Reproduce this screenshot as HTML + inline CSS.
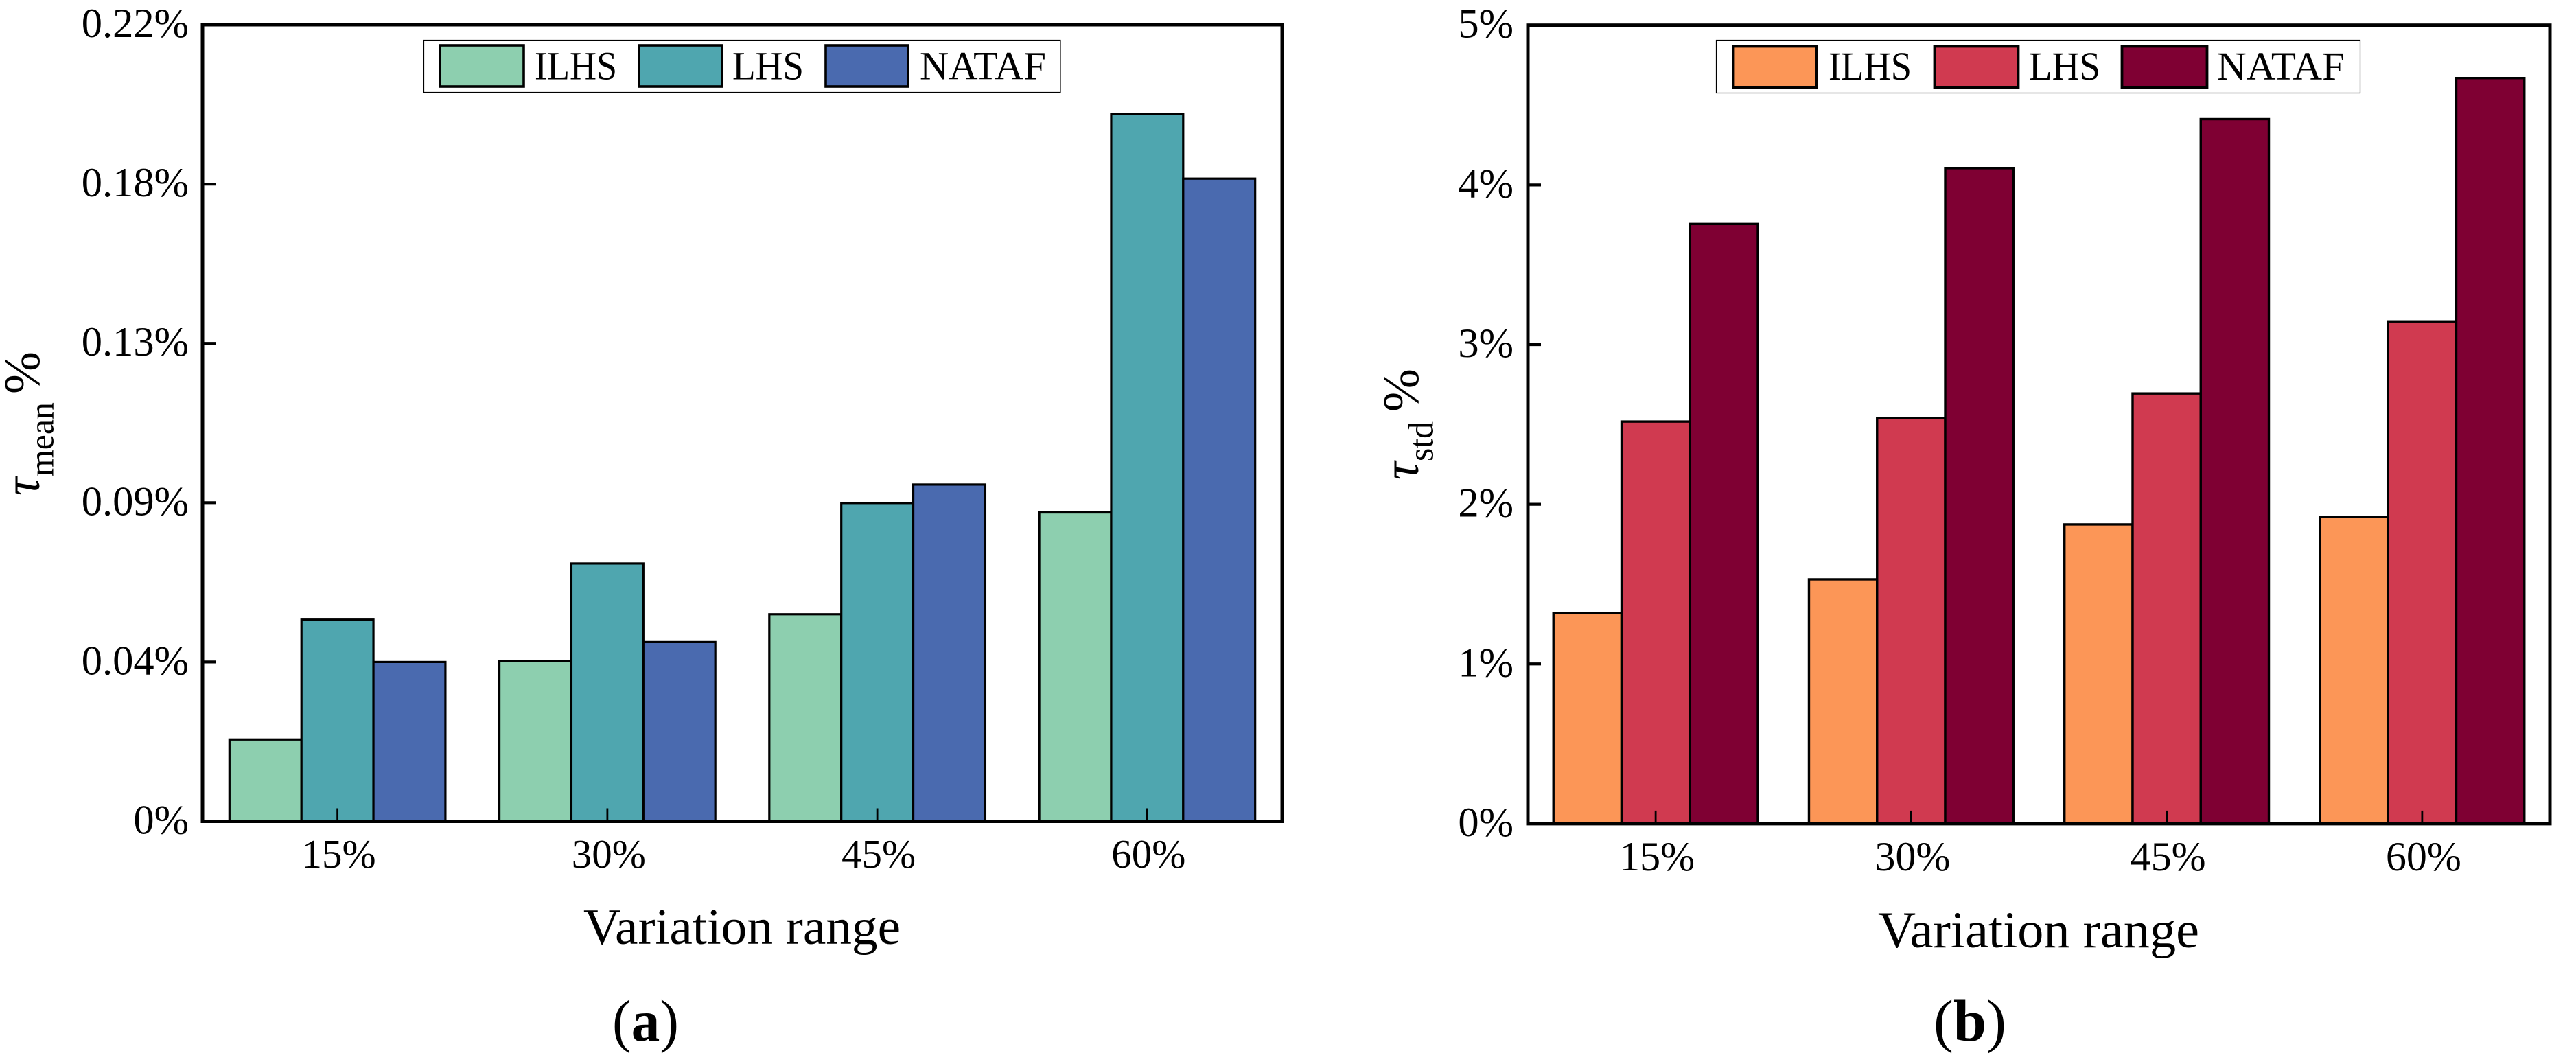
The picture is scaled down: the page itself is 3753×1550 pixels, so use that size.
<!DOCTYPE html>
<html lang="en">
<head>
<meta charset="utf-8">
<title>Variation range bar charts</title>
<style>
html,body{margin:0;padding:0;background:#fff;width:3753px;height:1550px;overflow:hidden}
svg{display:block}
text{font-family:"Liberation Serif","Times New Roman",serif;fill:#000}
</style>
</head>
<body>
<svg id="figure" xmlns="http://www.w3.org/2000/svg" width="3753" height="1550" viewBox="0 0 3753 1550">
  <rect x="0" y="0" width="3753" height="1550" fill="#fff"/>
  <g id="chart-a"></g>
  <g id="chart-b"></g>

  <g>
    <rect x="617.5" y="58.5" width="927.5" height="76" fill="#fff" stroke="#000" stroke-width="1.2"/>
    <rect x="641" y="66" width="122" height="60" fill="#8DCFAF" stroke="#000" stroke-width="3.6"/>
    <text x="779" y="115.5" font-size="58" textLength="120" lengthAdjust="spacingAndGlyphs">ILHS</text>
    <rect x="931" y="66" width="121" height="60" fill="#4FA6AF" stroke="#000" stroke-width="3.6"/>
    <text x="1067" y="115.5" font-size="58" textLength="104" lengthAdjust="spacingAndGlyphs">LHS</text>
    <rect x="1203" y="66" width="120" height="60" fill="#4A6AAF" stroke="#000" stroke-width="3.6"/>
    <text x="1340" y="115.5" font-size="58" textLength="184" lengthAdjust="spacingAndGlyphs">NATAF</text>
  </g>
  <g>
    <rect x="2500.5" y="58.5" width="938" height="77" fill="#fff" stroke="#000" stroke-width="1.2"/>
    <rect x="2525.5" y="67.5" width="121" height="60" fill="#FC9657" stroke="#000" stroke-width="3.8"/>
    <text x="2664" y="116" font-size="58" textLength="121" lengthAdjust="spacingAndGlyphs">ILHS</text>
    <rect x="2818.5" y="67.5" width="122" height="60" fill="#D03A50" stroke="#000" stroke-width="3.8"/>
    <text x="2956" y="116" font-size="58" textLength="104" lengthAdjust="spacingAndGlyphs">LHS</text>
    <rect x="3091.5" y="67.5" width="124" height="60" fill="#7F0033" stroke="#000" stroke-width="3.8"/>
    <text x="3230" y="116" font-size="58" textLength="186" lengthAdjust="spacingAndGlyphs">NATAF</text>
  </g>

  <g>
    <text transform="translate(57,722) rotate(-90)" font-size="74" font-style="italic">τ</text>
    <text transform="translate(77.5,694) rotate(-90)" font-size="50" textLength="108" lengthAdjust="spacingAndGlyphs">mean</text>
    <text transform="translate(57,574) rotate(-90)" font-size="74" textLength="62" lengthAdjust="spacingAndGlyphs">%</text>
  </g>
  <g>
    <text transform="translate(2066,699) rotate(-90)" font-size="74" font-style="italic">τ</text>
    <text transform="translate(2087.5,672) rotate(-90)" font-size="52" textLength="58" lengthAdjust="spacingAndGlyphs">std</text>
    <text transform="translate(2066,600) rotate(-90)" font-size="74" textLength="63" lengthAdjust="spacingAndGlyphs">%</text>
  </g>

  <text x="850" y="1375" font-size="74" textLength="462" lengthAdjust="spacingAndGlyphs">Variation range</text>
  <text x="2736" y="1380" font-size="75" textLength="468" lengthAdjust="spacingAndGlyphs">Variation range</text>

  <text x="892" y="1516" font-size="86" textLength="97" lengthAdjust="spacingAndGlyphs">(<tspan font-weight="bold">a</tspan>)</text>
  <text x="2817" y="1516" font-size="86" textLength="106" lengthAdjust="spacingAndGlyphs">(<tspan font-weight="bold">b</tspan>)</text>
</svg>
<script>
var categories = ['15%', '30%', '45%', '60%'];
var seriesNames = ['ILHS', 'LHS', 'NATAF'];

var meanIlhs = [0.0226, 0.0443, 0.0572, 0.0853];
var meanLhs = [0.0557, 0.0712, 0.0879, 0.1954];
var meanNataf = [0.0440, 0.0495, 0.0930, 0.1775];
var meanTickValues = [0, 0.044, 0.088, 0.132, 0.176, 0.22];
var meanTickLabels = ['0%', '0.04%', '0.09%', '0.13%', '0.18%', '0.22%'];

var stdIlhs = [1.318, 1.530, 1.874, 1.922];
var stdLhs = [2.518, 2.540, 2.694, 3.145];
var stdNataf = [3.755, 4.105, 4.412, 4.669];
var stdTickValues = [0, 1, 2, 3, 4, 5];
var stdTickLabels = ['0%', '1%', '2%', '3%', '4%', '5%'];

var SVG_NS = 'http://www.w3.org/2000/svg';

function make(parent, tag, attrs, content) {
  var el = document.createElementNS(SVG_NS, tag);
  for (var k in attrs) { el.setAttribute(k, attrs[k]); }
  if (content !== undefined) { el.textContent = content; }
  parent.appendChild(el);
  return el;
}

function drawChart(cfg) {
  var g = document.getElementById(cfg.id);
  var x0 = cfg.left, x1 = cfg.right, y0 = cfg.bottom, y1 = cfg.top;
  var step = (x1 - x0) / categories.length;
  var barWidth = step * 0.8 / cfg.series.length;
  function xScale(i) { return x0 + step * (i + 0.5); }
  function yScale(v) { return y0 - (v / cfg.yMax) * (y0 - y1); }

  cfg.series.forEach(function (values, s) {
    values.forEach(function (v, i) {
      var bx = xScale(i) + (s - cfg.series.length / 2) * barWidth;
      var bar = make(g, 'rect', {
        x: bx, y: yScale(v), width: barWidth, height: y0 - yScale(v),
        fill: cfg.colors[s], stroke: '#000', 'stroke-width': cfg.barStroke
      });
      
      
    });
  });

  var frame = make(g, 'rect', {
    x: x0, y: y1, width: x1 - x0, height: y0 - y1,
    fill: 'none', stroke: '#000', 'stroke-width': cfg.frameStroke
  });
  
  

  cfg.tickValues.forEach(function (v, i) {
    var ty = yScale(v);
    if (i > 0 && i < cfg.tickValues.length - 1) {
      var tick = make(g, 'line', {
        x1: x0, x2: x0 + cfg.tickLen, y1: ty, y2: ty,
        stroke: '#000', 'stroke-width': 4.2
      });
      
      
    }
    var label = make(g, 'text', {
      x: cfg.yLabelRight, y: ty + 18, 'font-size': 60.5, 'text-anchor': 'end'
    }, cfg.tickLabels[i]);
    
    
  });

  categories.forEach(function (c, i) {
    var tx = xScale(i);
    var tick = make(g, 'line', {
      x1: tx, x2: tx, y1: y0, y2: y0 - cfg.tickLen,
      stroke: '#000', 'stroke-width': 2.8
    });
    
    
    var label = make(g, 'text', {
      x: tx + 2, y: cfg.xLabelBaseline, 'font-size': cfg.xLabelSize, 'text-anchor': 'middle'
    }, c);
    
    
  });
}

drawChart({
  id: 'chart-a', left: 295, right: 1868, top: 36, bottom: 1196.5,
  yMax: 0.22, tickValues: meanTickValues, tickLabels: meanTickLabels,
  series: [meanIlhs, meanLhs, meanNataf],
  colors: ['#8DCFAF', '#4FA6AF', '#4A6AAF'],
  barStroke: 3.2, frameStroke: 5, tickLen: 19,
  yLabelRight: 275, xLabelBaseline: 1264, xLabelSize: 59
});
drawChart({
  id: 'chart-b', left: 2226, right: 3715, top: 36.7, bottom: 1199.9,
  yMax: 5, tickValues: stdTickValues, tickLabels: stdTickLabels,
  series: [stdIlhs, stdLhs, stdNataf],
  colors: ['#FC9657', '#D03A50', '#7F0033'],
  barStroke: 3.4, frameStroke: 5, tickLen: 19,
  yLabelRight: 2205, xLabelBaseline: 1268, xLabelSize: 60
});
</script>
</body>
</html>
